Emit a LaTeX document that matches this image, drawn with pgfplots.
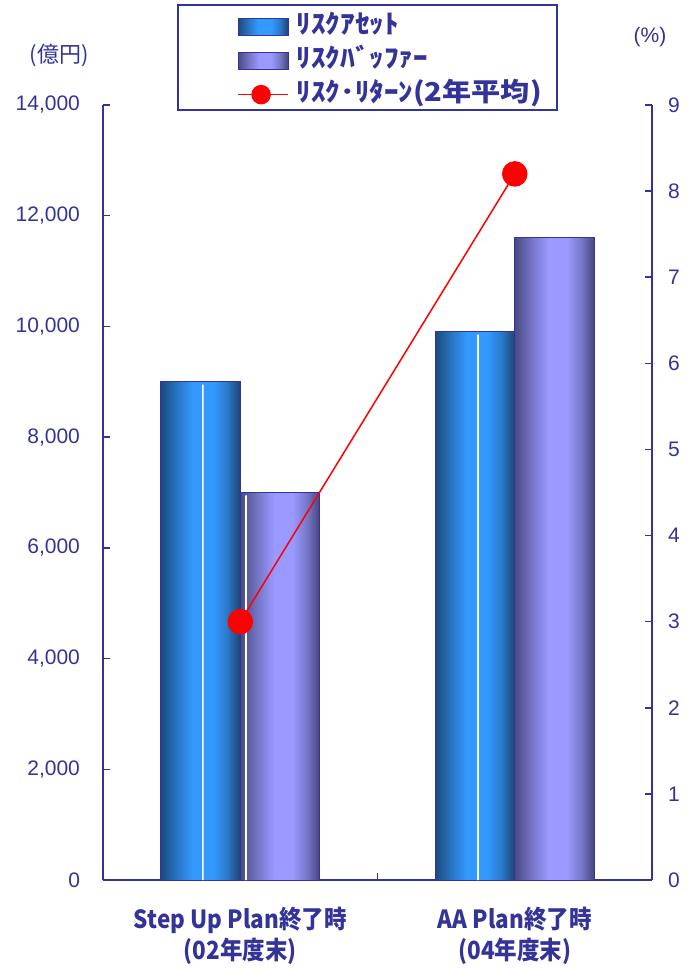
\documentclass[border=0pt]{standalone}
\usepackage{fontspec}
\setmainfont{Liberation Sans}
\newfontfamily\jp{Noto Sans CJK JP}
\newfontfamily\jpn{Noto Sans CJK JP}[FakeStretch=0.9]
\newfontfamily\jpw{Noto Sans CJK JP}[FakeStretch=1.12]
\usepackage{pgfplots}
\pgfplotsset{compat=1.18}

\definecolor{navy}{HTML}{333399}
\definecolor{axisc}{HTML}{3333A0}
\definecolor{bDark}{HTML}{1C4A7E}
\definecolor{bMid}{HTML}{2A78C8}
\definecolor{bBright}{HTML}{3399FF}
\definecolor{bDark2}{HTML}{1E4272}
\definecolor{pDark}{HTML}{4A4A82}
\definecolor{pMid}{HTML}{7676C8}
\definecolor{pBright}{HTML}{9999FF}
\definecolor{pDark2}{HTML}{45457A}

% 横方向のグラデーション (25bp = 左端, 75bp = 右端)
\pgfdeclarehorizontalshading{blueSh}{100bp}{color(0bp)=(bDark); color(25bp)=(bDark);
  color(36bp)=(bMid); color(45bp)=(bBright); color(58bp)=(bBright);
  color(67bp)=(bMid); color(75bp)=(bDark2); color(100bp)=(bDark2)}
\pgfdeclarehorizontalshading{purpSh}{100bp}{color(0bp)=(pDark); color(25bp)=(pDark);
  color(36bp)=(pMid); color(46bp)=(pBright); color(58bp)=(pBright);
  color(67bp)=(pMid); color(75bp)=(pDark2); color(100bp)=(pDark2)}

\tikzset{
  blueBar/.style={draw=navy, line width=0.5pt, shade, shading=blueSh},
  purpBar/.style={draw=navy, line width=0.5pt, shade, shading=purpSh},
}

\pgfplotsset{
  base/.style={
    width=274.5pt, height=387.5pt, scale only axis,
    at={(0pt,0pt)}, anchor=south west,
    xmin=-0.5, xmax=1.5,
    axis line style={axisc, line width=0.75pt},
    tick align=inside,
    major tick length=3.5pt,
    tick style={axisc, line width=0.75pt},
    /pgf/number format/assume math mode=true,
    yticklabel style={text=navy, font=\fontsize{10.5}{12}\selectfont},
  },
  bar/.style={ybar, bar width=0.29, bar shift=0pt},
}

\begin{document}
\begin{tikzpicture}
\path[use as bounding box] (-51.5pt,-44.5pt) rectangle (294.5pt,440pt);

% 棒グラフ (左軸, 億円) -- 棒ごとに別の plot にしてグラデーションを棒単位にする
\begin{axis}[base,
  ymin=0, ymax=14000,
  axis y line*=left, axis x line*=bottom,
  ytick={0,2000,...,14000},
  scaled y ticks=false,
  yticklabel style={/pgf/number format/1000 sep={,}, xshift=-8pt},
  xtick={0,0.5,1},
  xticklabels={{Step Up Plan終了時\\(02年度末)},{},{AA Plan終了時\\(04年度末)}},
  xticklabel style={align=center, text=navy, yshift=-10pt,
    font=\jpn\bfseries\fontsize{12.5}{15.5}\selectfont},
]
\addplot[bar, blueBar] coordinates {(-0.145,9000)};
\addplot[bar, purpBar] coordinates {(0.145,7000)};
\addplot[bar, blueBar] coordinates {(0.855,9900)};
\addplot[bar, purpBar] coordinates {(1.145,11600)};
\addplot[ybar, bar width=0.8pt, bar shift=0pt, fill=white, draw=none] coordinates {(-0.136,8950) (0.021,6950) (0.866,9850)};
\end{axis}

\node[text=navy, font=\jp\fontsize{11}{12}\selectfont] at (-22pt,412.5pt) {(億円)};
\node[text=navy, font=\fontsize{10.5}{12}\selectfont] at (273.5pt,421.5pt) {(\%)};

\draw[axisc, line width=0.75pt, fill=white] (37.5pt,437.5pt) rectangle (227pt,385pt);

% 折れ線 (右軸, %)
\begin{axis}[base,
  ymin=0, ymax=9,
  axis y line*=right, axis x line=none,
  ytick={0,1,...,9},
  yticklabel style={xshift=4.5pt},
  legend cell align=left,
  legend style={at={(axis description cs:0.244,1.1165)}, anchor=north west,
    draw=none, fill=none, inner sep=0pt, row sep=5.5pt, column sep=4pt,
    nodes={inner sep=0pt, text height=9pt, text depth=2.5pt},
    font=\jpw\bfseries\fontsize{13}{15}\selectfont, text=navy},
]
\addlegendimage{legend image code/.code={\draw[blueBar] (0pt,-4.25pt) rectangle (25pt,4.25pt);}}
\addlegendentry{ﾘｽｸｱｾｯﾄ}
\addlegendimage{legend image code/.code={\draw[purpBar] (0pt,-4.25pt) rectangle (25pt,4.25pt);}}
\addlegendentry{ﾘｽｸﾊﾞｯﾌｧｰ}
\addplot[red, line width=0.75pt, mark=*, mark size=6pt, mark options={fill=red, draw=red},
  legend image code/.code={\draw[red, line width=0.75pt] (0pt,0pt) -- (25pt,0pt); \fill[red] (11.5pt,0pt) circle (4.5pt);}]
  coordinates {(0,3.0) (1,8.2)};
\addlegendentry{ﾘｽｸ･ﾘﾀｰﾝ(2年平均)}
\end{axis}
\end{tikzpicture}
\end{document}
